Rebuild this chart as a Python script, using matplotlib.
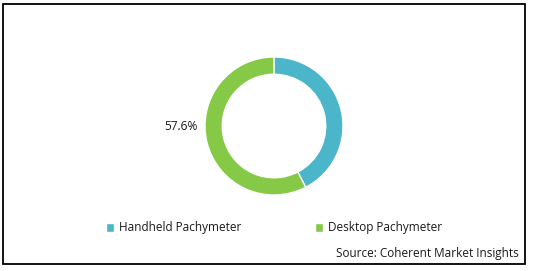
import matplotlib
matplotlib.use("Agg")
import matplotlib.pyplot as plt
from matplotlib.patches import Rectangle

categories = ["Handheld Pachymeter", "Desktop Pachymeter"]
shares = [42.4, 57.6]
colors = ["#4BB5C9", "#86C947"]
label_text = "57.6%"
source = "Source: Coherent Market Insights"

plt.rcParams['font.family'] = ['Open Sans', 'DejaVu Sans']
W, H = 534, 271
fig = plt.figure(figsize=(W/100, H/100), dpi=100)

# border
fig.patches.append(Rectangle((3/W, (H-264)/H), (525-3)/W, (264-4)/H, transform=fig.transFigure,
                             fill=False, edgecolor="black", linewidth=1.3))

cx, cy, r = 274, 126, 69
ax = fig.add_axes([(cx - r)/W, (H - cy - r)/H, 2*r/W, 2*r/H])
wedges, _ = ax.pie(shares, colors=colors, startangle=90, counterclock=False,
                   radius=1, wedgeprops=dict(width=0.25, edgecolor="white", linewidth=1))
ax.set_xlim(-1, 1); ax.set_ylim(-1, 1)
ax.set_aspect('auto')
ax.axis('off')
ax.text(-1.35, 0.0, label_text, ha='center', va='center', fontsize=8.6, color="#1a1a1a")

# legend
leg = fig.legend(wedges, categories, loc='center', bbox_to_anchor=(274/W, (H-228)/H),
                 ncol=2, frameon=False, fontsize=8.5, handlelength=0.7, handleheight=0.7,
                 columnspacing=6.2, handletextpad=0.4)
for t in leg.get_texts():
    t.set_color("#1a1a1a")

fig.text(519/W, (H-254)/H, source, ha='right', va='center', fontsize=8.5, color="#1a1a1a")

fig.savefig("out.png", dpi=100)
